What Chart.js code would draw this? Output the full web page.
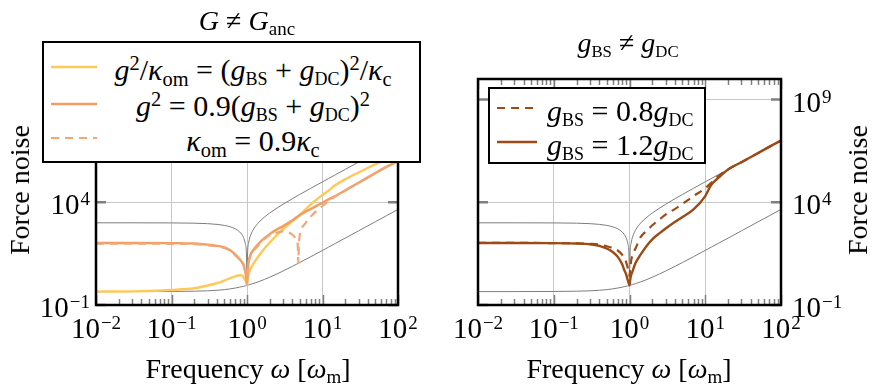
<!DOCTYPE html>
<html>
<head>
<meta charset="utf-8">
<script src="https://cdn.jsdelivr.net/npm/chart.js@4.4.1/dist/chart.umd.min.js"></script>
<style>
  body { margin: 0; background: #fff; }
  #wrap { position: relative; width: 876px; height: 391px; overflow: hidden; font-family: "Liberation Serif", serif; color: #000; }
  canvas { position: absolute; top: 0; }
  .txt { position: absolute; white-space: nowrap; font-size: 28px; line-height: 1; transform: translate(-50%, -50%); }
  .rot { transform: translate(-50%, -50%) rotate(-90deg); }
  sub, sup { font-size: 0.68em; line-height: 0; }
  sub { vertical-align: -0.28em; }
  sup { vertical-align: 0.5em; }
  sub.sc { font-size: 0.6em; }
  .legend { position: absolute; background: #fff; border: 2px solid #000; box-sizing: border-box; }
  .lrow { position: absolute; left: 0; width: 100%; height: 0; }
  .ltext { position: absolute; white-space: nowrap; font-size: 30px; line-height: 1; }
</style>
</head>
<body>
<div id="wrap">
  <canvas id="leftChart" width="438" height="391" style="left:0"></canvas>
  <canvas id="rightChart" width="438" height="391" style="left:438px"></canvas>
</div>
<script>
// ── Data ──
const freq = [0.01, 0.03, 0.1, 0.2, 0.3, 0.4, 0.5, 0.6, 0.7, 0.8, 0.85, 0.9, 0.95, 0.98, 1.0,
  1.02, 1.05, 1.1, 1.2, 1.4, 1.7, 2, 2.5, 3, 4, 5, 7, 10, 12, 15, 20, 30, 50, 70, 100];

const grayUpper = [1000, 999, 990, 960, 910, 840, 750, 640, 510, 360, 278, 190, 97.5, 39.6, 3,
  40.4, 102.5, 210, 440, 960, 1890, 3000, 5250, 8000, 15000, 24000, 48000, 99000, 143000, 224000, 399000, 899000, 2.5e6, 4.9e6, 1e7];
const grayLower = [0.45, 0.45, 0.455, 0.47, 0.49, 0.52, 0.56, 0.61, 0.67, 0.74, 0.78, 0.81, 0.86, 0.88, 0.9,
  0.92, 0.95, 0.99, 1.1, 1.33, 1.75, 2.25, 3.26, 4.5, 7.65, 11.7, 22.5, 45.5, 65, 102, 180, 405, 1125, 2200, 4500];

// left panel: G != G_anc
const yellowRatio = [0.45, 0.46, 0.54, 0.65, 0.89, 1.17, 1.55, 2.04, 2.5, 2.8, 2.75, 2.24, 1.6, 1.2, 0.95,
  1.8, 3.2, 5.2, 9.5, 22, 56, 110, 263, 490, 1200, 2400, 7900, 22900, 37000, 70800, 132000, 282000, 708000, 1.26e6, 2.5e6];
const orangeG09 = [105, 105, 103, 98, 87, 76, 63, 46, 28, 17, 12.5, 9, 4, 2, 1,
  4.5, 12.6, 25, 45, 89, 178, 282, 479, 692, 1320, 2400, 4790, 9550, 13800, 20900, 38000, 89100, 263000, 525000, 1e6];

const freqKappa = [0.01, 0.1, 0.2, 0.3, 0.4, 0.5, 0.6, 0.7, 0.8, 0.85, 0.9, 0.95, 0.98, 1.0, 1.02, 1.05, 1.1, 1.2,
  1.4, 1.7, 2, 2.5, 3, 3.5, 4, 4.3, 4.5, 4.7, 4.78, 4.86, 5.0, 5.2, 6, 7, 8, 10, 12, 15, 20, 30, 50, 70, 100];
const orangeKappa09 = [98, 95, 91, 81, 71, 59, 43, 26, 16, 12, 8.5, 3.8, 1.9, 1.0, 4.2, 11, 22, 40,
  76, 166, 251, 331, 380, 355, 263, 200, 174, 80, 11, 80, 250, 457, 1000, 2000, 3300, 6600, 11200, 20000, 38000, 89100, 263000, 525000, 1e6];

// right panel: g_BS != g_DC
const brownBS08 = [105, 105, 103, 100, 95, 87, 72, 59, 45, 28, 20, 12.6, 6.3, 4, 2.5,
  5, 14, 28, 56, 200, 417, 759, 1480, 2510, 4790, 8320, 19950, 47900, 89100, 190500, 398000, 891000, 2.5e6, 5e6, 1e7];
const brownBS12 = [105, 105, 103, 98, 91, 76, 56, 38, 22, 9.5, 5.2, 3.2, 1.6, 1.1, 0.9,
  1.6, 2.8, 4.5, 11, 28, 79, 158, 316, 525, 1120, 1900, 4470, 20000, 70800, 158000, 398000, 891000, 2.5e6, 5e6, 1e7];

const xTicks = [0.01, 0.1, 1, 10, 100];
const yTicks = [0.1, 1e4, 1e9];

const leftLegendLabels = [
  '<i>g</i><sup>2</sup>/<i>κ</i><sub>om</sub> = (<i>g</i><sub class="sc">BS</sub> + <i>g</i><sub class="sc">DC</sub>)<sup>2</sup>/<i>κ</i><sub>c</sub>',
  '<i>g</i><sup>2</sup> = 0.9(<i>g</i><sub class="sc">BS</sub> + <i>g</i><sub class="sc">DC</sub>)<sup>2</sup>',
  '<i>κ</i><sub>om</sub> = 0.9<i>κ</i><sub>c</sub>',
];
const rightLegendLabels = [
  '<i>g</i><sub class="sc">BS</sub> = 0.8<i>g</i><sub class="sc">DC</sub>',
  '<i>g</i><sub class="sc">BS</sub> = 1.2<i>g</i><sub class="sc">DC</sub>',
];

const colors = {
  yellow: '#ffc857',
  orange: '#f19e62',
  orangeDash: '#f3a678',
  brown: '#9c4a16',
  gray: '#7d7d7d',
  grid: '#c8c8c8',
  tick: '#808080',
};

const TICK_FONT = '29px "Liberation Serif", serif';
const SUP_FONT = '19px "Liberation Serif", serif';

function pts(xs, ys) { return xs.map((x, i) => ({ x, y: ys[i] })); }

function line(label, xs, ys, color, width, dash) {
  return { label, data: pts(xs, ys), borderColor: color, borderWidth: width, borderDash: dash || [], fill: false };
}

// ── pgfplots-like frame, inner ticks and 10^n labels ──
function drawPow(ctx, v, x, y, align) {
  const e = Math.round(Math.log10(v));
  const sup = e < 0 ? '\u2212' + (-e) : String(e);
  ctx.font = TICK_FONT;
  const wb = ctx.measureText('10').width;
  ctx.font = SUP_FONT;
  const ws = ctx.measureText(sup).width + 1;
  let x0 = x;
  if (align === 'center') x0 = x - (wb + ws) / 2;
  else if (align === 'right') x0 = x - wb - ws;
  ctx.textAlign = 'left';
  ctx.textBaseline = 'alphabetic';
  ctx.fillStyle = '#000';
  ctx.font = TICK_FONT;
  ctx.fillText('10', x0, y);
  ctx.font = SUP_FONT;
  ctx.fillText(sup, x0 + wb + 1, y - 9);
}

const pgfAxes = {
  id: 'pgfAxes',
  afterDatasetsDraw(chart, args, opts) {
    const { ctx, chartArea: a, scales: { x, y } } = chart;
    ctx.save();
    ctx.strokeStyle = colors.tick;
    ctx.lineWidth = 1.5;
    ctx.beginPath();
    for (let i = 0; i < xTicks.length; i++) {
      const d = xTicks[i];
      const px = Math.round(x.getPixelForValue(d)) + 0.5;
      ctx.moveTo(px, a.bottom); ctx.lineTo(px, a.bottom - 10);
      ctx.moveTo(px, a.top); ctx.lineTo(px, a.top + 10);
      if (i === xTicks.length - 1) break;
      for (let m = 2; m <= 9; m++) {
        const mx = Math.round(x.getPixelForValue(m * d)) + 0.5;
        ctx.moveTo(mx, a.bottom); ctx.lineTo(mx, a.bottom - 6);
        ctx.moveTo(mx, a.top); ctx.lineTo(mx, a.top + 6);
      }
    }
    ctx.stroke();
    ctx.lineWidth = 2.5;
    ctx.beginPath();
    yTicks.forEach(v => {
      const py = y.getPixelForValue(v);
      ctx.moveTo(a.left, py); ctx.lineTo(a.left + 10, py);
      ctx.moveTo(a.right, py); ctx.lineTo(a.right - 10, py);
    });
    ctx.stroke();

    ctx.strokeStyle = '#000';
    ctx.lineWidth = 2.5;
    ctx.strokeRect(a.left, a.top, a.right - a.left, a.bottom - a.top);

    xTicks.forEach(v => drawPow(ctx, v, x.getPixelForValue(v), a.bottom + 33, 'center'));
    yTicks.forEach(v => {
      const py = y.getPixelForValue(v) + 12;
      if (opts.side === 'right') drawPow(ctx, v, a.right + 11, py, 'left');
      else drawPow(ctx, v, a.left - 6, py, 'right');
    });
    ctx.restore();
  }
};

function makeChart(id, datasets, padding, side) {
  return new Chart(document.getElementById(id), {
    type: 'line',
    data: { datasets },
    options: {
      responsive: false,
      animation: false,
      devicePixelRatio: 1,
      layout: { padding },
      elements: { point: { radius: 0 }, line: { cubicInterpolationMode: 'monotone' } },
      plugins: { legend: { display: false }, tooltip: { enabled: false }, pgfAxes: { side } },
      scales: {
        x: {
          type: 'logarithmic', min: 0.01, max: 100,
          afterBuildTicks: s => { s.ticks = xTicks.map(v => ({ value: v })); },
          afterFit: s => { s.height = 0; },
          ticks: { display: false },
          grid: { color: colors.grid, lineWidth: 1, drawTicks: false },
          border: { display: false },
        },
        y: {
          type: 'logarithmic', position: side, min: 0.1, max: 1e10,
          afterBuildTicks: s => { s.ticks = yTicks.map(v => ({ value: v })); },
          afterFit: s => { s.width = 0; },
          ticks: { display: false },
          grid: { color: colors.grid, lineWidth: 1, drawTicks: false },
          border: { display: false },
        },
      },
    },
    plugins: [pgfAxes],
  });
}

// first dataset is drawn on top
const leftChart = makeChart('leftChart', [
  line('kappa_om = 0.9 kappa_c', freqKappa, orangeKappa09, colors.orangeDash, 2.2, [8, 6]),
  line('g^2 = 0.9 (gBS+gDC)^2', freq, orangeG09, colors.orange, 2.4),
  line('g^2/kappa_om = (gBS+gDC)^2/kappa_c', freq, yellowRatio, colors.yellow, 2.4),
  line('upper bound', freq, grayUpper, colors.gray, 1),
  line('lower bound', freq, grayLower, colors.gray, 1),
], { left: 96, right: 40, top: 79, bottom: 86 }, 'left');

const rightChart = makeChart('rightChart', [
  line('gBS = 1.2 gDC', freq, brownBS12, colors.brown, 2.4),
  line('gBS = 0.8 gDC', freq, brownBS08, colors.brown, 2.2, [8, 6]),
  line('upper bound', freq, grayUpper, colors.gray, 1),
  line('lower bound', freq, grayLower, colors.gray, 1),
], { left: 40, right: 95, top: 79, bottom: 86 }, 'right');

// redraw once fonts are settled so canvas labels use the serif face
if (document.fonts && document.fonts.ready) {
  document.fonts.ready.then(() => { leftChart.update('none'); rightChart.update('none'); });
}

// ── Text overlays ──
const wrap = document.getElementById('wrap');
function addText(html, x, y, cls) {
  const el = document.createElement('div');
  el.className = 'txt' + (cls ? ' ' + cls : '');
  el.style.left = x + 'px';
  el.style.top = y + 'px';
  el.innerHTML = html;
  wrap.appendChild(el);
}
addText('<i>G</i> \u2260 <i>G</i><sub>anc</sub>', 247, 21);
addText('<i>g</i><sub class="sc">BS</sub> \u2260 <i>g</i><sub class="sc">DC</sub>', 628, 43);
addText('Frequency <i>ω</i> [<i>ω</i><sub>m</sub>]', 248, 369);
addText('Frequency <i>ω</i> [<i>ω</i><sub>m</sub>]', 629, 369);
addText('Force noise', 20, 190, 'rot');
addText('Force noise', 858, 190, 'rot');

// HTML legend built from the chart datasets
function buildLegend(chart, box, entries, labels) {
  const el = document.createElement('div');
  el.className = 'legend';
  Object.assign(el.style, { left: box.left + 'px', top: box.top + 'px', width: box.w + 'px', height: box.h + 'px' });
  entries.forEach((e, i) => {
    const ds = chart.data.datasets[e.index];
    const dash = ds.borderDash.length ? ds.borderDash.join(' ') : 'none';
    const row = document.createElement('div');
    row.className = 'lrow';
    row.style.top = e.y + 'px';
    row.innerHTML =
      `<svg width="${box.sw}" height="10" style="position:absolute;left:7px;top:-5px">` +
      `<line x1="0" y1="5" x2="${box.sw}" y2="5" stroke="${ds.borderColor}" stroke-width="${ds.borderWidth}" stroke-dasharray="${dash}"/></svg>`;
    const t = document.createElement('span');
    t.className = 'ltext';
    t.innerHTML = labels[i];
    t.style.left = box.tx + 'px';
    t.style.transform = box.center ? 'translate(-50%, -50%)' : 'translate(0, -50%)';
    t.style.top = (e.dy || 3) + 'px';
    row.appendChild(t);
    el.appendChild(row);
  });
  wrap.appendChild(el);
}

buildLegend(leftChart, { left: 42, top: 41, w: 379, h: 122, sw: 46, tx: 209, center: true },
  [{ index: 2, y: 24, dy: 3 }, { index: 1, y: 61, dy: 2 }, { index: 0, y: 95, dy: 0 }], leftLegendLabels);
buildLegend(rightChart, { left: 488, top: 87, w: 218, h: 77, sw: 40, tx: 57, center: false },
  [{ index: 1, y: 19 }, { index: 0, y: 53 }], rightLegendLabels);
</script>
</body>
</html>
